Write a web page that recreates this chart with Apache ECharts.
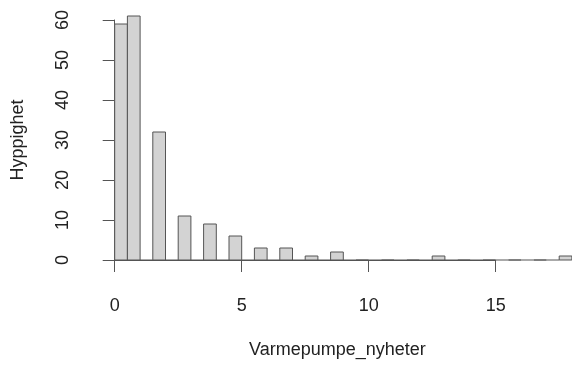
<!DOCTYPE html>
<html>
<head>
<meta charset="utf-8">
<script src="https://cdn.jsdelivr.net/npm/echarts@6/dist/echarts.min.js"></script>
<style>
  html, body { margin: 0; padding: 0; background: #fff; }
  #hist { width: 572px; height: 367px; }
</style>
</head>
<body>
<div id="hist"></div>
<script>
  // antall nyheter (heltall) og hvor mange ganger hver verdi forekommer
  const nyheter = [0, 1, 2, 3, 4, 5, 6, 7, 8, 9, 10, 11, 12, 13, 14, 15, 16, 17, 18];
  const hyppighet = [59, 61, 32, 11, 9, 6, 3, 3, 1, 2, 0, 0, 0, 1, 0, 0, 0, 0, 1];
  const xTicks = [0, 5, 10, 15];
  const yTicks = [0, 10, 20, 30, 40, 50, 60];

  const binWidth = 0.5;
  const font = 'Liberation Sans, Arial, sans-serif';

  let chart = echarts.init(document.getElementById('hist'));
  let option = {
    animation: false,
    grid: { left: 114.7, right: 76.3, top: 20, bottom: 107 },
    xAxis: {
      type: 'value',
      min: xTicks[0],
      max: xTicks[xTicks.length - 1],
      interval: 5,
      offset: 10,
      axisLine: { show: true, lineStyle: { color: '#555', width: 1 } },
      axisTick: { show: true, length: 12, lineStyle: { color: '#555' } },
      axisLabel: { margin: 27, color: '#222', fontSize: 18, fontFamily: font },
      splitLine: { show: false }
    },
    yAxis: {
      type: 'value',
      min: yTicks[0],
      max: yTicks[yTicks.length - 1],
      interval: 10,
      offset: 18.3,
      name: 'Hyppighet',
      nameLocation: 'middle',
      nameRotate: 90,
      nameGap: 69,
      nameTextStyle: { color: '#222', fontSize: 18, fontFamily: font },
      axisLine: { show: true, lineStyle: { color: '#555', width: 1 } },
      axisTick: { show: true, length: 12, lineStyle: { color: '#555' } },
      axisLabel: { margin: 24, rotate: 90, color: '#222', fontSize: 18, fontFamily: font },
      splitLine: { show: false }
    },
    graphic: [{
      type: 'text',
      left: 343 - 94,
      top: 341,
      style: { text: 'Varmepumpe_nyheter', fill: '#222', font: '18px ' + font }
    }],
    series: [{
      type: 'custom',
      clip: false,
      data: nyheter.map((v, i) => [v, hyppighet[i]]),
      renderItem: function (params, api) {
        let v = api.value(0);
        let n = api.value(1);
        // R hist: 0 havner i [0, 0.5], ellers (v-0.5, v]
        let left = v === 0 ? 0 : v - binWidth;
        let right = v === 0 ? binWidth : v;
        let p0 = api.coord([left, n]);
        let p1 = api.coord([right, 0]);
        let children = [{
          type: 'rect',
          shape: { x: p0[0], y: p0[1], width: p1[0] - p0[0], height: p1[1] - p0[1] },
          style: { fill: '#d3d3d3', stroke: '#555', lineWidth: 1 }
        }];
        // tom halvbinge etter søylen
        if (v > 0 && v < nyheter[nyheter.length - 1]) {
          let p2 = api.coord([v + binWidth, 0]);
          children.push({
            type: 'line',
            shape: { x1: p1[0], y1: p1[1], x2: p2[0], y2: p2[1] },
            style: { stroke: '#555', lineWidth: 1 }
          });
        }
        return { type: 'group', children: children };
      }
    }]
  };
  option && chart.setOption(option);
</script>
</body>
</html>
